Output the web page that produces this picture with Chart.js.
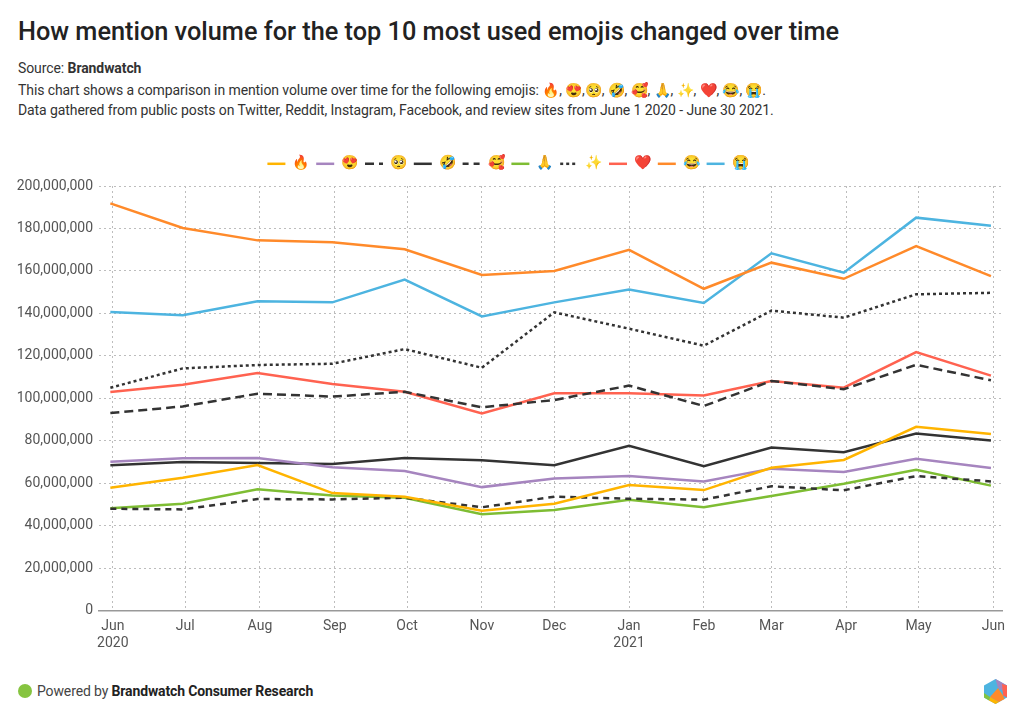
<!DOCTYPE html>
<html>
<head>
<meta charset="utf-8">
<title>Emoji mention volume</title>
<script src="https://cdn.jsdelivr.net/npm/chart.js@4/dist/chart.umd.min.js"></script>
<style>
  html, body { margin: 0; padding: 0; background: #fff; }
  body { width: 1024px; height: 725px; position: relative; overflow: hidden; font-family: Roboto, sans-serif; color: #333; }
  .txt { position: absolute; left: 18px; white-space: nowrap; font-size: 14px; line-height: 20px; letter-spacing: -0.09px; }
  #title { top: 16px; font-size: 25.3px; line-height: 32px; font-weight: 500; color: #222; letter-spacing: 0; }
  #source { top: 58px; }
  #desc1 { top: 80px; }
  #desc2 { top: 100px; }
  #powered { top: 681px; left: 37px; color: #444; letter-spacing: -0.13px; }
  #powered b { color: #222; }
  #dot { position: absolute; left: 18px; top: 684px; width: 14px; height: 14px; border-radius: 50%; background: #86c440; }
  #logo { position: absolute; left: 983px; top: 678px; }
  #wrap { position: absolute; left: 0; top: 150px; width: 1024px; height: 511px; }
</style>
</head>
<body>
<div class="txt" id="title">How mention volume for the top 10 most used emojis changed over time</div>
<div class="txt" id="source">Source: <b>Brandwatch</b></div>
<div class="txt" id="desc1">This chart shows a comparison in mention volume over time for the following emojis: 🔥, 😍,🥺, 🤣, 🥰, 🙏, ✨, ❤️, 😂, 😭.</div>
<div class="txt" id="desc2">Data gathered from public posts on Twitter, Reddit, Instagram, Facebook, and review sites from June 1 2020 - June 30 2021.</div>
<div id="wrap"><canvas id="graph"></canvas></div>
<div id="dot"></div>
<div class="txt" id="powered">Powered by <b>Brandwatch Consumer Research</b></div>
<svg id="logo" width="25" height="27" viewBox="0 0 25 27">
  <polygon points="12.5,1 24,7.5 24,19.5 12.5,26 1,19.5 1,7.5" fill="#4db4e0"/>
  <polygon points="12.5,1 18,4 15,10" fill="#a685bf"/>
  <polygon points="18,4 24,7.5 24,15 15,10" fill="#a685bf"/>
  <polygon points="19,6 24,7.5 24,19.5 20,17.5" fill="#ff6250"/>
  <polygon points="15,10 20,17.5 21.5,21 16,24 7,19" fill="#ff8a2a"/>
  <polygon points="7,19 16,24 12.5,26 6,22.5" fill="#ffb400"/>
  <polygon points="1,15 7,19 6,22.5 1,19.5" fill="#82c341"/>
</svg>

<script>
// 目盛り(月初)
const tickDates = ['2020-06-01', '2020-07-01', '2020-08-01', '2020-09-01', '2020-10-01', '2020-11-01', '2020-12-01',
  '2021-01-01', '2021-02-01', '2021-03-01', '2021-04-01', '2021-05-01', '2021-06-01'];
const tickLabels = [['Jun', '2020'], 'Jul', 'Aug', 'Sep', 'Oct', 'Nov', 'Dec', ['Jan', '2021'], 'Feb', 'Mar', 'Apr', 'May', 'Jun'];

// データの日付
const pointDates = ['2020-05-31', '2020-06-30', '2020-07-31', '2020-08-31', '2020-09-30', '2020-11-01', '2020-12-01',
  '2021-01-01', '2021-02-01', '2021-03-01', '2021-03-31', '2021-04-30', '2021-05-31'];

// 絵文字ラベル
const emojis = ['🔥', '😍', '🥺', '🤣', '🥰', '🙏', '✨', '❤️', '😂', '😭'];

// 各絵文字の投稿数
const fire = [57900000, 62600000, 68600000, 55400000, 53700000, 47100000, 50400000, 59200000, 56800000, 67300000, 71000000, 86600000, 83200000];
const heartEyes = [70200000, 71800000, 71900000, 67500000, 65800000, 58200000, 62200000, 63400000, 60900000, 66900000, 65300000, 71600000, 67200000];
const pleading = [93100000, 96200000, 102200000, 100800000, 103100000, 95800000, 99200000, 106000000, 96400000, 108200000, 104300000, 115800000, 108500000];
const rofl = [68500000, 70000000, 69500000, 69100000, 71900000, 70800000, 68500000, 77700000, 68000000, 76800000, 74600000, 83400000, 80200000];
const smilingHearts = [48000000, 47700000, 52600000, 52400000, 53200000, 48700000, 53700000, 52700000, 52300000, 58600000, 56700000, 63400000, 60900000];
const pray = [48200000, 50400000, 57200000, 54200000, 53200000, 45400000, 47400000, 52300000, 48700000, 54000000, 59800000, 66400000, 58900000];
const sparkles = [105000000, 114100000, 115700000, 116300000, 123200000, 114400000, 140500000, 132800000, 124800000, 141300000, 138000000, 149000000, 149700000];
const redHeart = [103000000, 106400000, 111900000, 106800000, 103100000, 92900000, 102400000, 102400000, 101400000, 108200000, 105000000, 121800000, 110700000];
const joy = [191800000, 180200000, 174400000, 173500000, 170200000, 158100000, 160000000, 169900000, 151600000, 163900000, 156300000, 171700000, 157600000];
const sob = [140700000, 139100000, 145700000, 145200000, 155900000, 138600000, 145200000, 151300000, 144900000, 168300000, 159200000, 185100000, 181300000];

const seriesValues = [fire, heartEyes, pleading, rofl, smilingHearts, pray, sparkles, redHeart, joy, sob];
const seriesColors = ['#ffb400', '#a685bf', '#333333', '#333333', '#333333', '#7ebd33', '#333333', '#ff6250', '#ff8a2a', '#4db4e0'];
const seriesDashes = [[], [], [9, 5], [], [6, 5], [], [3, 3], [], [], []];

const fontFamily = 'Roboto, sans-serif';
const tickColor = '#555555';
const gridColor = '#bdbdbd';
const gridDash = [2, 3];
const lineWidth = 2.5;

let datasets = [];
for (let i = 0; i < emojis.length; i++) {
  datasets.push({
    label: emojis[i],
    data: seriesValues[i].map(function(v, j) { return { x: Date.parse(pointDates[j]), y: v }; }),
    borderColor: seriesColors[i],
    backgroundColor: seriesColors[i],
    borderWidth: lineWidth,
    borderDash: seriesDashes[i],
    pointRadius: 0,
    tension: 0,
    fill: false
  });
}

// 凡例の高さを固定
const legendHeightPlugin = {
  id: 'legendHeight',
  beforeInit: function(chart) {
    const fit = chart.legend.fit;
    chart.legend.fit = function() {
      fit.call(this);
      this.height = 36;
    };
  }
};

new Chart(document.getElementById('graph'), {
  type: 'line',
  data: { datasets: datasets },
  plugins: [legendHeightPlugin],
  options: {
    responsive: true,
    maintainAspectRatio: false,
    animation: false,
    // 凡例を中央に寄せるため左にも余白
    layout: { padding: { left: 14, right: 22, top: 0, bottom: 0 } },
    plugins: {
      tooltip: { enabled: false },
      legend: {
        position: 'top',
        align: 'center',
        labels: {
          usePointStyle: true,
          pointStyle: 'line',
          pointStyleWidth: 18,
          boxHeight: 14,
          padding: 6.8,
          color: '#333333',
          font: { family: fontFamily, size: 14 },
          generateLabels: function(chart) {
            // 点線の設定を凡例にも反映
            return Chart.defaults.plugins.legend.labels.generateLabels(chart).map(function(item, i) {
              item.lineDash = seriesDashes[i];
              item.lineWidth = lineWidth;
              item.strokeStyle = seriesColors[i];
              return item;
            });
          }
        }
      }
    },
    scales: {
      x: {
        type: 'linear',
        min: Date.parse('2020-05-26T07:00:00Z'),
        max: Date.parse('2021-06-04T14:00:00Z'),
        afterBuildTicks: function(scale) {
          scale.ticks = tickDates.map(function(d) { return { value: Date.parse(d) }; });
        },
        afterFit: function(scale) { scale.height = 50.3; },
        border: { color: '#999999', width: 1.5, dash: gridDash },
        grid: { color: gridColor, lineWidth: 1, drawTicks: false },
        ticks: {
          autoSkip: false,
          maxRotation: 0,
          padding: 7,
          color: tickColor,
          font: { family: fontFamily, size: 14, lineHeight: 1.22 },
          callback: function(value) {
            return tickLabels[tickDates.findIndex(function(d) { return Date.parse(d) === value; })];
          }
        }
      },
      y: {
        min: 0,
        max: 200000000,
        afterFit: function(scale) { scale.width = 85; },
        border: { display: false, dash: gridDash },
        grid: { color: gridColor, lineWidth: 1, drawTicks: false },
        ticks: {
          stepSize: 20000000,
          padding: 6,
          color: tickColor,
          font: { family: fontFamily, size: 14 },
          callback: function(value) { return Number(value).toLocaleString('en-US'); }
        }
      }
    }
  }
});
</script>
</body>
</html>
